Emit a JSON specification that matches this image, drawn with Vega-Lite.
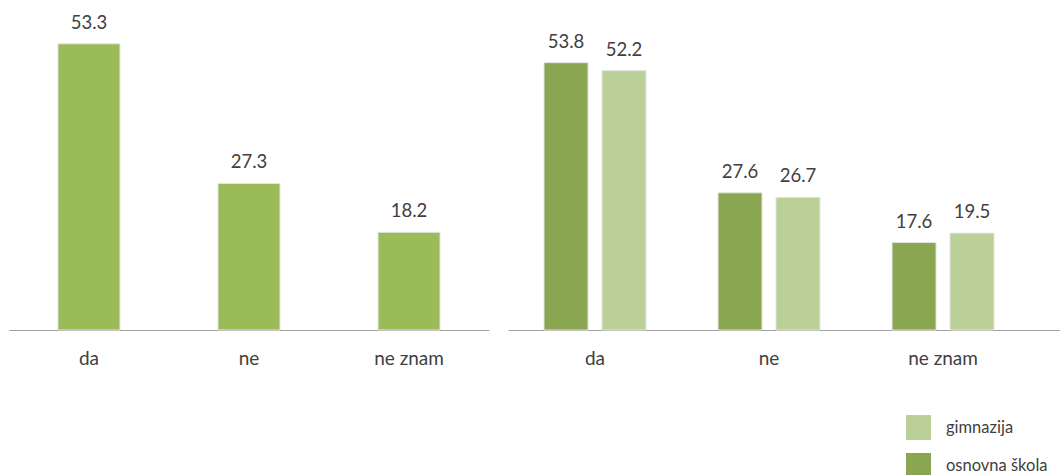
{
  "$schema": "https://vega.github.io/schema/vega-lite/v6.json",
  "padding": {"left": 9, "top": 10, "right": 0, "bottom": 0},
  "background": "white",
  "spacing": 19,
  "bounds": "flush",
  "config": {
    "view": {"stroke": null},
    "font": "Lato",
    "axis": {"labelFont": "Lato", "labelFontSize": 19, "labelColor": "#404040", "domainColor": "#a0a0a0", "domainWidth": 1, "ticks": false, "labelPadding": 19, "labelAngle": 0, "title": null, "grid": false},
    "text": {"font": "Lato", "fontSize": 18.5, "color": "#404040"}
  },
  "datasets": {
    "ukupno": [
      {"odgovor": "da", "postotak": 53.3},
      {"odgovor": "ne", "postotak": 27.3},
      {"odgovor": "ne znam", "postotak": 18.2}
    ],
    "po_skoli": [
      {"odgovor": "da", "skola": "osnovna škola", "postotak": 53.8},
      {"odgovor": "da", "skola": "gimnazija", "postotak": 52.2},
      {"odgovor": "ne", "skola": "osnovna škola", "postotak": 27.6},
      {"odgovor": "ne", "skola": "gimnazija", "postotak": 26.7},
      {"odgovor": "ne znam", "skola": "osnovna škola", "postotak": 17.6},
      {"odgovor": "ne znam", "skola": "gimnazija", "postotak": 19.5}
    ]
  },
  "hconcat": [
    {
      "width": 480,
      "height": 320,
      "data": {"name": "ukupno"},
      "encoding": {
        "x": {"field": "odgovor", "type": "nominal", "sort": ["da", "ne", "ne znam"], "scale": {"paddingInner": 0.6125, "paddingOuter": 0.306}, "axis": {}},
        "y": {"field": "postotak", "type": "quantitative", "scale": {"domain": [0, 59.6]}, "axis": null}
      },
      "layer": [
        {"mark": {"type": "bar", "color": "#9bbb59", "stroke": "#e4e4e4", "strokeWidth": 1}},
        {"mark": {"type": "text", "dy": -15, "baseline": "alphabetic"}, "encoding": {"text": {"field": "postotak", "type": "quantitative", "format": ".1f"}}}
      ]
    },
    {
      "width": 552,
      "height": 320,
      "data": {"name": "po_skoli"},
      "encoding": {
        "x": {"field": "odgovor", "type": "nominal", "sort": ["da", "ne", "ne znam"], "scale": {"paddingInner": 0.414, "paddingOuter": 0.293, "align": 0.353}, "axis": {}},
        "xOffset": {"field": "skola", "type": "nominal", "sort": ["osnovna škola", "gimnazija"], "scale": {"paddingInner": 0.241, "paddingOuter": 0}},
        "y": {"field": "postotak", "type": "quantitative", "scale": {"domain": [0, 64.4]}, "axis": null}
      },
      "layer": [
        {
          "mark": {"type": "bar", "stroke": "#e4e4e4", "strokeWidth": 1},
          "encoding": {
            "color": {
              "field": "skola",
              "type": "nominal",
              "scale": {"domain": ["gimnazija", "osnovna škola"], "range": ["#bbd097", "#8ba650"]},
              "legend": {"title": null, "orient": "none", "legendX": 897, "legendY": 405, "symbolType": "square", "symbolSize": 625, "symbolStrokeWidth": 0, "symbolOpacity": 1, "labelFont": "Lato", "labelFontSize": 16.5, "labelColor": "#404040", "labelOffset": 15, "rowPadding": 13, "padding": 0}
            }
          }
        },
        {"mark": {"type": "text", "dy": -15, "baseline": "alphabetic"}, "encoding": {"text": {"field": "postotak", "type": "quantitative", "format": ".1f"}}}
      ]
    }
  ]
}
